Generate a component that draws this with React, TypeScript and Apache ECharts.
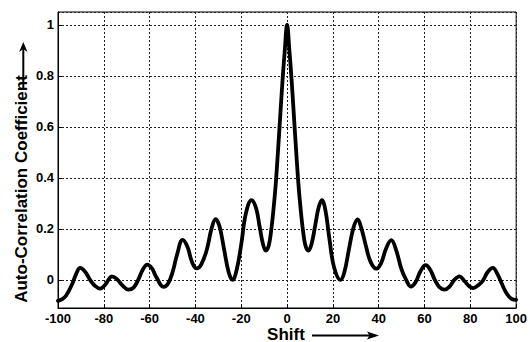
import React, { useEffect, useRef } from "react";
import * as echarts from "echarts";

// Shift values (x) and auto-correlation coefficients (y)
const shifts: number[] = [
  -100, -98, -96.5, -94, -92, -90.3, -88, -86, -84, -81.6,
  -79.5, -78, -76.5, -74.5, -72, -69.3, -67, -65, -63, -61,
  -59, -57, -54, -52, -50, -48, -45.6, -43.5, -41.5, -39.5,
  -37.5, -35, -33, -31.2, -29.5, -27.5, -25.5, -23.8, -22, -20,
  -18, -15.5, -13.5, -12, -10.5, -9.3, -8, -7, -6, -5,
  -4, -3, -2, -1, 0,
  1, 2, 3, 4, 5, 6, 7, 8, 9.3, 10.8,
  12.3, 13.8, 15.2, 16.8, 18.5, 20.5, 23.3, 25, 27, 29,
  30.8, 32.5, 34.5, 36.5, 39, 41, 43.3, 45.5, 47.5, 50,
  52, 54, 56, 58.3, 60.5, 62.5, 64.5, 66.5, 68.7, 71,
  73, 75.3, 77.5, 79.5, 81.3, 83.5, 85.4, 87.5, 89.8, 92,
  94, 96, 98, 100,
];
const coefficients: number[] = [
  -0.082, -0.074, -0.062, -0.02, 0.025, 0.047, 0.03, 0.0, -0.022, -0.034,
  -0.02, 0.0, 0.014, 0.005, -0.02, -0.038, -0.03, 0.0, 0.04, 0.06,
  0.045, 0.01, -0.027, -0.015, 0.03, 0.1, 0.157, 0.13, 0.07, 0.045,
  0.06, 0.12, 0.2, 0.238, 0.21, 0.12, 0.03, 0.0, 0.04, 0.14,
  0.26, 0.313, 0.28, 0.21, 0.14, 0.115, 0.135, 0.19, 0.27, 0.37,
  0.5, 0.64, 0.78, 0.9, 1.0,
  0.9, 0.78, 0.64, 0.5, 0.37, 0.27, 0.19, 0.135, 0.115, 0.145,
  0.215, 0.285, 0.313, 0.27, 0.16, 0.05, 0.0, 0.03, 0.12, 0.205,
  0.237, 0.2, 0.13, 0.07, 0.044, 0.065, 0.125, 0.156, 0.12, 0.04,
  0.0, -0.026, -0.01, 0.035, 0.058, 0.04, 0.0, -0.028, -0.038, -0.025,
  0.0, 0.014, -0.005, -0.025, -0.032, -0.02, -0.004, 0.03, 0.047, 0.02,
  -0.02, -0.055, -0.074, -0.078,
];

const xTitle = "Shift";
const yTitle = "Auto-Correlation Coefficient";

const FONT = "'Liberation Sans', Arial, Helvetica, sans-serif";

export default function App() {
  const ref = useRef<HTMLDivElement>(null);
  useEffect(() => {
    if (!ref.current) return;
    const chart = echarts.init(ref.current, undefined, { renderer: "svg" });
    const data = shifts.map((x, i) => [x, coefficients[i]]);
    const splitLine = {
      show: true,
      lineStyle: { color: "#222", type: [2, 2] as any, width: 1 },
    };
    chart.setOption({
      animation: false,
      backgroundColor: "#fff",
      grid: {
        left: 58,
        right: 13,
        top: 12,
        bottom: 34,
        show: true,
        borderColor: "#000",
        borderWidth: 1,
        backgroundColor: "transparent",
      },
      xAxis: {
        type: "value",
        min: -100,
        max: 100,
        interval: 20,
        axisLine: { show: true, onZero: false, lineStyle: { color: "#000", width: 1 } },
        axisTick: { show: true, inside: true, length: 4, lineStyle: { color: "#000" } },
        axisLabel: {
          color: "#000",
          fontFamily: FONT,
          fontWeight: "bold",
          fontSize: 13,
          margin: 4,
        },
        splitLine,
      },
      yAxis: {
        type: "value",
        min: -0.11,
        max: 1.05,
        splitNumber: 6,
        axisLine: { show: true, onZero: false, lineStyle: { color: "#000", width: 1 } },
        axisTick: { show: true, inside: true, length: 4, lineStyle: { color: "#000" } },
        axisLabel: {
          color: "#000",
          fontFamily: FONT,
          fontWeight: "bold",
          fontSize: 13,
          margin: 4,
          showMinLabel: false,
          showMaxLabel: false,
          formatter: (v: number) => {
            const r = Math.round(v * 10) / 10;
            if (Math.abs(v - r) > 1e-6) return "";
            return String(r);
          },
        },
        splitLine,
      },
      series: [
        {
          type: "line",
          data,
          smooth: 0.4,
          showSymbol: false,
          symbol: "none",
          lineStyle: { color: "#000", width: 3.8, cap: "round", join: "round" },
          z: 5,
        },
      ],
      graphic: [
        {
          type: "text",
          x: 286,
          y: 334,
          style: {
            text: xTitle,
            fontFamily: FONT,
            fontWeight: "bold",
            fontSize: 17,
            fill: "#000",
            textAlign: "center",
            textVerticalAlign: "middle",
          },
        },
        {
          type: "line",
          shape: { x1: 312, y1: 335.5, x2: 371, y2: 335.5 },
          style: { stroke: "#000", lineWidth: 2 },
        },
        {
          type: "polygon",
          shape: { points: [[367, 331.5], [379, 335.5], [367, 339.5], [369.5, 335.5]] },
          style: { fill: "#000" },
        },
        {
          type: "text",
          x: 21,
          y: 189,
          rotation: Math.PI / 2,
          style: {
            text: yTitle,
            fontFamily: FONT,
            fontWeight: "bold",
            fontSize: 17,
            fill: "#000",
            textAlign: "center",
            textVerticalAlign: "middle",
          },
        },
        {
          type: "line",
          shape: { x1: 23.3, y1: 88, x2: 23.3, y2: 47 },
          style: { stroke: "#000", lineWidth: 2 },
        },
        {
          type: "polygon",
          shape: { points: [[23.3, 42], [27.5, 52], [23.3, 49], [19.1, 52]] },
          style: { fill: "#000" },
        },
      ],
    });
    return () => chart.dispose();
  }, []);
  return (
    <div
      ref={ref}
      style={{ position: "absolute", left: 0, top: 0, width: 530, height: 342 }}
    />
  );
}
